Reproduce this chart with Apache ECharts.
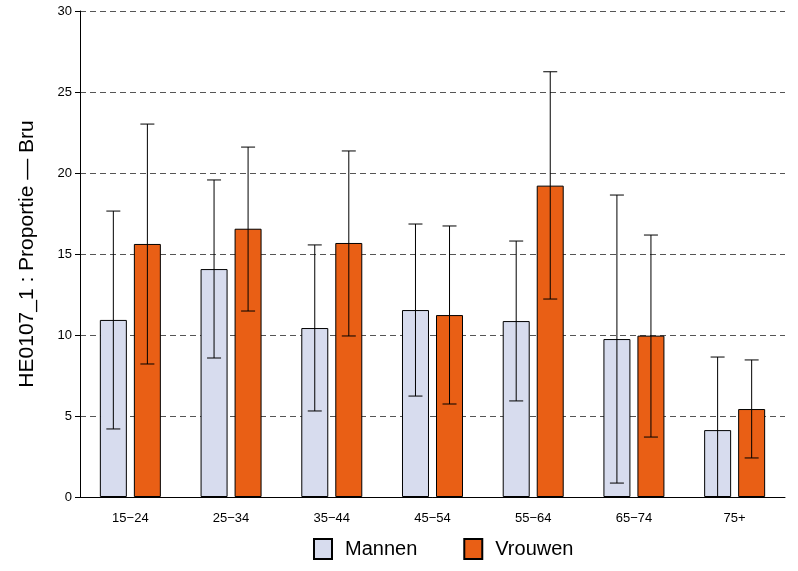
<!DOCTYPE html>
<html><head><meta charset="utf-8">
<script src="https://cdn.jsdelivr.net/npm/echarts@6/dist/echarts.min.js"></script>
<style>html,body{margin:0;padding:0;background:#fff}#c{width:798px;height:571px}</style>
</head><body><div id="c"></div>
<script>
const categories = ['15\u221224','25\u221234','35\u221244','45\u221254','55\u221264','65\u221274','75+'];
const mannen = [10.93, 14.07, 10.43, 11.54, 10.86, 9.75, 4.13];
const mannenLow = [4.2, 8.58, 5.31, 6.23, 5.93, 0.86, 0];
const mannenHigh = [17.65, 19.57, 15.56, 16.85, 15.8, 18.64, 8.64];
const vrouwen = [15.62, 16.56, 15.68, 11.23, 19.22, 9.96, 5.43];
const vrouwenLow = [8.21, 11.48, 9.94, 5.74, 12.22, 3.7, 2.41];
const vrouwenHigh = [23.02, 21.6, 21.36, 16.73, 26.25, 16.17, 8.46];
const yTicks = [0, 5, 10, 15, 20, 25, 30];

const font = 'Liberation Sans, Arial, Helvetica, sans-serif';
const chart = echarts.init(document.getElementById('c'), null, {renderer: 'canvas'});

function errSeries(low, high, sign) {
  return {
    type: 'custom',
    silent: true,
    z: 10,
    data: categories.map((c, i) => [i, low[i], high[i]]),
    renderItem: function (params, api) {
      const i = api.value(0);
      const band = api.size([1, 0])[0];
      const off = sign * band * 0.169;
      const p1 = api.coord([i, api.value(1)]);
      const p2 = api.coord([i, api.value(2)]);
      const x = p1[0] + off;
      const cap = 7;
      const st = {stroke: '#000', lineWidth: 1};
      return {type: 'group', children: [
        {type: 'line', shape: {x1: x, y1: p1[1], x2: x, y2: p2[1]}, style: st},
        {type: 'line', shape: {x1: x - cap, y1: p1[1], x2: x + cap, y2: p1[1]}, style: st},
        {type: 'line', shape: {x1: x - cap, y1: p2[1], x2: x + cap, y2: p2[1]}, style: st}
      ]};
    }
  };
}

chart.setOption({
  animation: false,
  backgroundColor: '#fff',
  grid: {left: 80, right: 13, top: 11, bottom: 74, containLabel: false},
  legend: {
    data: ['Mannen', 'Vrouwen'],
    left: 308, top: 533,
    icon: 'rect',
    itemWidth: 18, itemHeight: 20, itemGap: 46,
    textStyle: {fontFamily: font, fontSize: 20, color: '#000', padding: [0, 0, 0, 8]}
  },
  xAxis: {
    type: 'category',
    data: categories,
    axisLine: {lineStyle: {color: '#000', width: 1}},
    axisTick: {show: false},
    axisLabel: {fontFamily: font, fontSize: 13, color: '#000', margin: 15}
  },
  yAxis: {
    type: 'value',
    min: 0, max: 30, interval: 5,
    name: 'HE0107_1 : Proportie \u2014 Bru',
    nameLocation: 'middle',
    nameGap: 42,
    nameTextStyle: {fontFamily: font, fontSize: 21, color: '#000'},
    axisLine: {show: true, lineStyle: {color: '#000', width: 1}},
    axisTick: {show: true, length: 5, lineStyle: {color: '#000'}},
    axisLabel: {fontFamily: font, fontSize: 13, color: '#000', margin: 8,
      formatter: v => yTicks.includes(v) ? String(v) : ''},
    splitLine: {show: true, lineStyle: {color: '#555', type: [6, 4], width: 1}}
  },
  series: [
    {name: 'Mannen', type: 'bar', data: mannen, barWidth: '26.8%', barGap: '26%',
      itemStyle: {color: '#d7dcee', borderColor: '#000', borderWidth: 1}},
    {name: 'Vrouwen', type: 'bar', data: vrouwen, barWidth: '26.8%', barGap: '26%',
      itemStyle: {color: '#e95f15', borderColor: '#000', borderWidth: 1}},
    errSeries(mannenLow, mannenHigh, -1),
    errSeries(vrouwenLow, vrouwenHigh, 1)
  ]
});
</script></body></html>
